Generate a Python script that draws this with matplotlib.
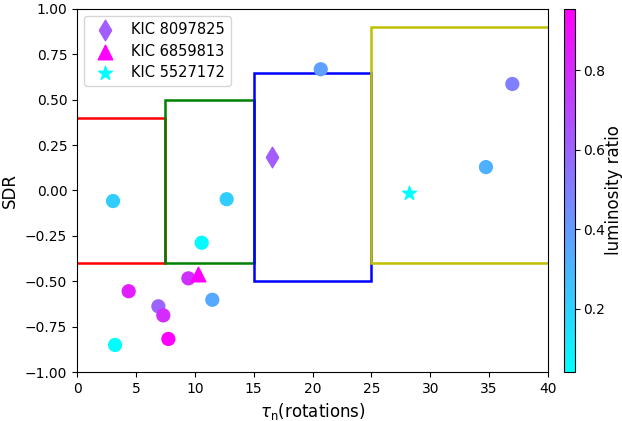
import matplotlib
matplotlib.use("Agg")
import matplotlib.pyplot as plt
from matplotlib.patches import Rectangle

# circle data
tau = [3.06, 12.71, 10.59, 9.46, 4.39, 6.91, 7.33, 11.49, 7.76, 3.23, 20.7, 36.97, 34.73]
sdr = [-0.058, -0.048, -0.288, -0.484, -0.555, -0.638, -0.688, -0.602, -0.818, -0.851, 0.668, 0.587, 0.129]
lum = [0.22, 0.22, 0.06, 0.78, 0.85, 0.6, 0.8, 0.35, 0.95, 0.05, 0.38, 0.5, 0.32]

# special stars
spec_names = ["KIC 8097825", "KIC 6859813", "KIC 5527172"]
spec_tau = [16.59, 10.25, 28.22]
spec_sdr = [0.186, -0.462, -0.012]
spec_lum = [0.62, 0.96, 0.04]
spec_marker = ["d", "^", "*"]

# boxes
boxes_x0 = [-0.06, 7.47, 15, 25]
boxes_x1 = [7.47, 15, 25, 40.1]
boxes_y0 = [-0.4, -0.4, -0.5, -0.4]
boxes_y1 = [0.4, 0.5, 0.65, 0.9]
boxes_c = ["r", "g", "b", "y"]

vmin, vmax = 0.04, 0.955

fig = plt.figure(figsize=(6.22, 4.21), dpi=100)
ax = fig.add_axes([77/622, 1-372/421, (548-77)/622, (372-9)/421])
cax = fig.add_axes([564/622, 1-372/421, 11/622, (372-9)/421])

for x0, x1, y0, y1, c in zip(boxes_x0, boxes_x1, boxes_y0, boxes_y1, boxes_c):
    ax.add_patch(Rectangle((x0, y0), x1 - x0, y1 - y0, fill=False, edgecolor=c, lw=1.8))

sc = ax.scatter(tau, sdr, c=lum, cmap="cool", vmin=vmin, vmax=vmax, s=85, zorder=3)
cmap = plt.get_cmap("cool")
for n, t, s_, l, m in zip(spec_names, spec_tau, spec_sdr, spec_lum, spec_marker):
    ax.scatter([t], [s_], color=cmap((l - vmin) / (vmax - vmin)), marker=m, s=110, label=n, zorder=3)

ax.set_xlim(0, 40)
ax.set_ylim(-1, 1)
ax.set_yticks([-1, -0.75, -0.5, -0.25, 0, 0.25, 0.5, 0.75, 1])
ax.set_yticklabels(["−1.00", "−0.75", "−0.50", "−0.25", "0.00", "0.25", "0.50", "0.75", "1.00"])
ax.set_xlabel(r"$\tau_{\rm n}$(rotations)", fontsize=12)
ax.set_ylabel("SDR", fontsize=12)
ax.legend(loc="upper left", fontsize=10.5, borderaxespad=0.5, labelspacing=0.45)

cb = fig.colorbar(sc, cax=cax)
cb.set_ticks([0.2, 0.4, 0.6, 0.8])
cb.ax.tick_params(pad=2)
cb.ax.set_ylabel("luminosity ratio", fontsize=12, rotation=90, va="center", ha="center")
cb.ax.yaxis.set_label_coords((614 - 564) / 11, 0.5)

fig.savefig("out.png", dpi=100)
